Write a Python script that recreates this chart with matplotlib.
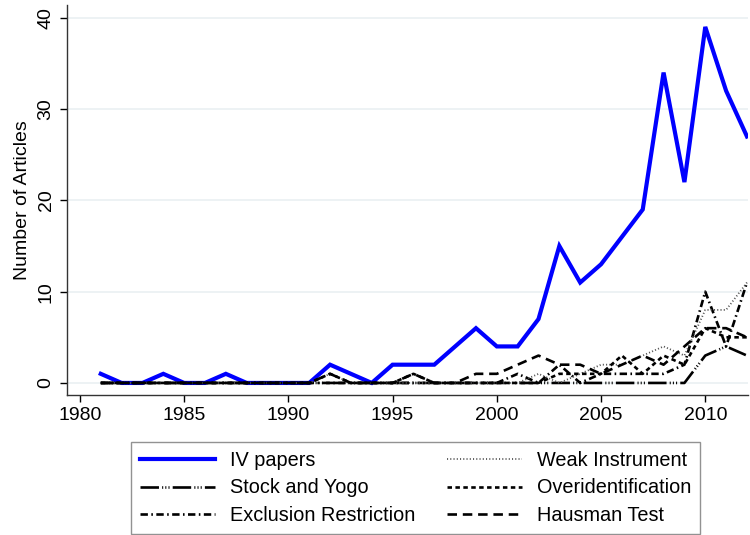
import matplotlib
matplotlib.use("Agg")
import matplotlib.pyplot as plt

plt.rcParams['font.family'] = ['Liberation Sans', 'DejaVu Sans']

years = list(range(1981, 2013))
iv_papers = [1, 0, 0, 1, 0, 0, 1, 0, 0, 0, 0, 2, 1, 0, 2, 2, 2, 4, 6, 4, 4, 7,
             15, 11, 13, 16, 19, 34, 22, 39, 32, 27]
stock_yogo = [0, 0, 0, 0, 0, 0, 0, 0, 0, 0, 0, 0, 0, 0, 0, 0, 0, 0, 0, 0, 0, 0,
              0, 0, 0, 0, 0, 0, 0, 3, 4, 3]
exclusion = [0, 0, 0, 0, 0, 0, 0, 0, 0, 0, 0, 0, 0, 0, 0, 0, 0, 0, 0, 0, 1, 0,
             2, 0, 1, 1, 1, 1, 2, 10, 4, 11]
weak_instr = [0, 0, 0, 0, 0, 0, 0, 0, 0, 0, 0, 1, 0, 0, 0, 0, 0, 0, 0, 0, 0, 1,
              0, 1, 2, 2, 3, 4, 3, 8, 8, 11]
overid = [0, 0, 0, 0, 0, 0, 0, 0, 0, 0, 0, 1, 0, 0, 0, 1, 0, 0, 0, 0, 0, 0,
          1, 1, 1, 3, 1, 3, 2, 6, 5, 5]
hausman = [0, 0, 0, 0, 0, 0, 0, 0, 0, 0, 0, 1, 0, 0, 0, 1, 0, 0, 1, 1, 2, 3,
           2, 2, 1, 2, 3, 2, 4, 6, 6, 5]
labels = ["IV papers", "Stock and Yogo", "Exclusion Restriction",
          "Weak Instrument", "Overidentification", "Hausman Test"]
x_ticks = [1980, 1985, 1990, 1995, 2000, 2005, 2010]
y_ticks = [0, 10, 20, 30, 40]

fig = plt.figure(figsize=(7.5, 5.35), dpi=100)
ax = fig.add_axes([67/750, 1-395/535, 681/750, 390/535])

lw = 1.9
h_iv, = ax.plot(years, iv_papers, color='#0000ff', lw=3.0, label=labels[0],
                solid_joinstyle='miter')
h_sy, = ax.plot(years, stock_yogo, color='black', lw=lw, label=labels[1],
                linestyle=(0, (7, 1.2, 0.4, 0.8, 0.4, 0.8, 0.4, 1.2)))
h_ex, = ax.plot(years, exclusion, color='black', lw=lw, label=labels[2],
                linestyle=(0, (2.8, 1.3, 0.6, 1.3)))
h_wi, = ax.plot(years, weak_instr, color='#555555', lw=1.3, label=labels[3],
                linestyle=(0, (0.6, 1.2)))
h_ov, = ax.plot(years, overid, color='black', lw=lw, label=labels[4],
                linestyle=(0, (1.7, 1.3)))
h_ha, = ax.plot(years, hausman, color='black', lw=lw, label=labels[5],
                linestyle=(0, (3.6, 2.2)))

ax.set_xlim(1979.38, 2012.05)
ax.set_ylim(-1.32, 41.4)
ax.set_xticks(x_ticks)
ax.set_yticks(y_ticks)
ax.tick_params(axis='both', direction='out', length=5, width=1, labelsize=14,
               colors='black')
ax.tick_params(axis='y', pad=4)
for lab in ax.get_yticklabels():
    lab.set_rotation(90)
    lab.set_va('center')
ax.grid(axis='y', color='#eaf0f2', lw=1.2)
ax.set_axisbelow(True)
for s in ['top', 'right']:
    ax.spines[s].set_visible(False)
for s in ['left', 'bottom']:
    ax.spines[s].set_color('#333333')
    ax.spines[s].set_linewidth(1)
ax.set_ylabel("Number of Articles", fontsize=14, labelpad=5)

leg = fig.legend(handles=[h_iv, h_sy, h_ex, h_wi, h_ov, h_ha], ncol=2,
                 loc='upper left', bbox_to_anchor=(131/750, 1-442/535),
                 fontsize=14.3, frameon=True, fancybox=False, edgecolor='#777777',
                 handlelength=3.8, handletextpad=0.72, columnspacing=1.6,
                 labelspacing=0.43, borderpad=0.45, borderaxespad=0)
leg.get_frame().set_linewidth(1.0)

fig.savefig("out.png", dpi=100)
